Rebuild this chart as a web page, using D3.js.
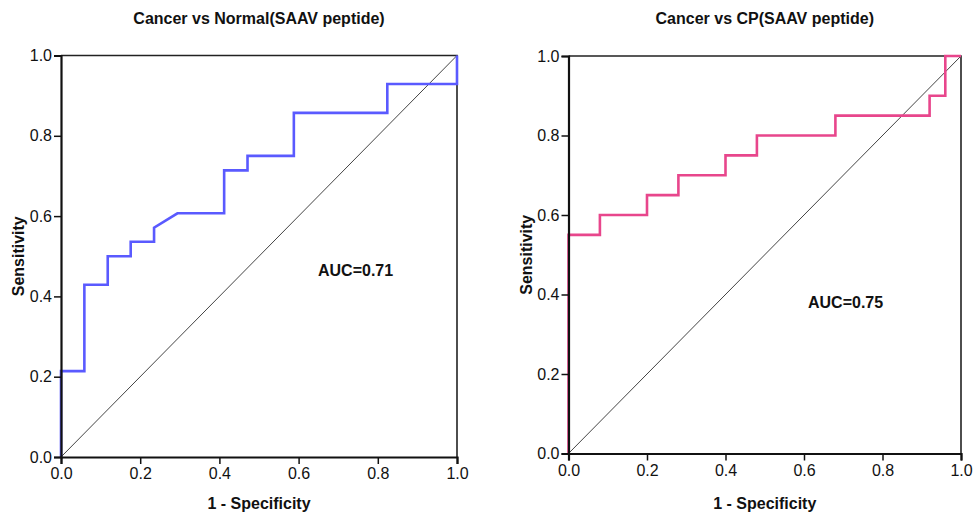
<!DOCTYPE html>
<html>
<head>
<meta charset="utf-8">
<script src="https://cdn.jsdelivr.net/npm/d3@7"></script>
<style>
  body { margin: 0; background: #fff; }
  svg { display: block; }
  text { font-family: "Liberation Sans", Arial, sans-serif; fill: #111; }
</style>
</head>
<body>
<div id="chart"></div>
<script>
// ROC data (1 - specificity, sensitivity)
const normalFpr = [0, 0, 0.059, 0.059, 0.118, 0.118, 0.176, 0.176, 0.235, 0.235, 0.294, 0.412, 0.412, 0.471, 0.471, 0.588, 0.588, 0.824, 0.824, 1, 1];
const normalTpr = [0, 0.214, 0.214, 0.429, 0.429, 0.5, 0.5, 0.536, 0.536, 0.571, 0.607, 0.607, 0.714, 0.714, 0.75, 0.75, 0.857, 0.857, 0.929, 0.929, 1];

const cpFpr = [0, 0, 0.08, 0.08, 0.2, 0.2, 0.28, 0.28, 0.4, 0.4, 0.48, 0.48, 0.68, 0.68, 0.92, 0.92, 0.96, 0.96, 1];
const cpTpr = [0, 0.55, 0.55, 0.6, 0.6, 0.65, 0.65, 0.7, 0.7, 0.75, 0.75, 0.8, 0.8, 0.85, 0.85, 0.9, 0.9, 1, 1];

const tickValues = [0, 0.2, 0.4, 0.6, 0.8, 1.0];
const titles = ["Cancer vs Normal(SAAV peptide)", "Cancer vs CP(SAAV peptide)"];
const aucLabels = ["AUC=0.71", "AUC=0.75"];
const xTitle = "1 - Specificity";
const yTitle = "Sensitivity";

const width = 973, height = 514;

const svg = d3.select("#chart")
    .append("svg")
    .attr("width", width)
    .attr("height", height);

const panels = [
    {fpr: normalFpr, tpr: normalTpr, color: "#5a5aff", title: titles[0], auc: aucLabels[0],
     x0: 61, x1: 457, y0: 457, y1: 55.5, aucX: 318, aucY: 276, yLabX: 24},
    {fpr: cpFpr, tpr: cpTpr, color: "#e8468c", title: titles[1], auc: aucLabels[1],
     x0: 568.5, x1: 961, y0: 453.5, y1: 56, aucX: 808, aucY: 308, yLabX: 532}
];

const drawPanel = (p) => {
    const xScale = d3.scaleLinear().domain([0, 1]).range([p.x0, p.x1]);
    const yScale = d3.scaleLinear().domain([0, 1]).range([p.y0, p.y1]);
    const g = svg.append("g");

    /* top and right frame */
    g.append("path")
        .attr("d", `M${xScale(0)},${yScale(1)}H${xScale(1)}V${yScale(0)}`)
        .attr("fill", "none")
        .attr("stroke", "#222")
        .attr("stroke-width", 1.6);

    /* reference diagonal */
    g.append("line")
        .attr("x1", xScale(0)).attr("y1", yScale(0))
        .attr("x2", xScale(1)).attr("y2", yScale(1))
        .attr("stroke", "#444")
        .attr("stroke-width", 1);

    /* ROC curve */
    const pts = p.fpr.map((f, i) => [f, p.tpr[i]]);
    const line = d3.line()
        .x(d => xScale(d[0]))
        .y(d => yScale(d[1]));
    g.append("path")
        .attr("d", line(pts))
        .attr("fill", "none")
        .attr("stroke", p.color)
        .attr("stroke-width", 2.6);

    /* axes */
    const xAxis = d3.axisBottom(xScale).tickValues(tickValues)
        .tickFormat(d3.format(".1f")).tickSizeOuter(0).tickSize(7).tickPadding(4);
    const yAxis = d3.axisLeft(yScale).tickValues(tickValues)
        .tickFormat(d3.format(".1f")).tickSizeOuter(0).tickSize(7).tickPadding(2);

    const xg = g.append("g")
        .attr("transform", `translate(0,${p.y0})`)
        .call(xAxis);
    const yg = g.append("g")
        .attr("transform", `translate(${p.x0},0)`)
        .call(yAxis);

    [xg, yg].forEach(a => {
        a.select(".domain").attr("stroke", "#111").attr("stroke-width", 2.2);
        a.selectAll(".tick line").attr("stroke", "#111").attr("stroke-width", 1.5);
        a.selectAll(".tick text")
            .attr("fill", "#111")
            .style("font-size", "16px")
            .style("font-family", "'Liberation Sans', Arial, sans-serif");
    });

    /* titles and labels */
    g.append("text")
        .attr("x", (p.x0 + p.x1) / 2)
        .attr("y", 24)
        .attr("text-anchor", "middle")
        .style("font-size", "16px")
        .style("font-weight", "bold")
        .text(p.title);

    g.append("text")
        .attr("x", (p.x0 + p.x1) / 2)
        .attr("y", 509)
        .attr("text-anchor", "middle")
        .style("font-size", "16px")
        .style("font-weight", "bold")
        .text(xTitle);

    g.append("text")
        .attr("transform", `translate(${p.yLabX},${(p.y0 + p.y1) / 2}) rotate(-90)`)
        .attr("text-anchor", "middle")
        .style("font-size", "16px")
        .style("font-weight", "bold")
        .text(yTitle);

    g.append("text")
        .attr("x", p.aucX)
        .attr("y", p.aucY)
        .style("font-size", "16px")
        .style("font-weight", "bold")
        .text(p.auc);
};

panels.forEach(drawPanel);
</script>
</body>
</html>
